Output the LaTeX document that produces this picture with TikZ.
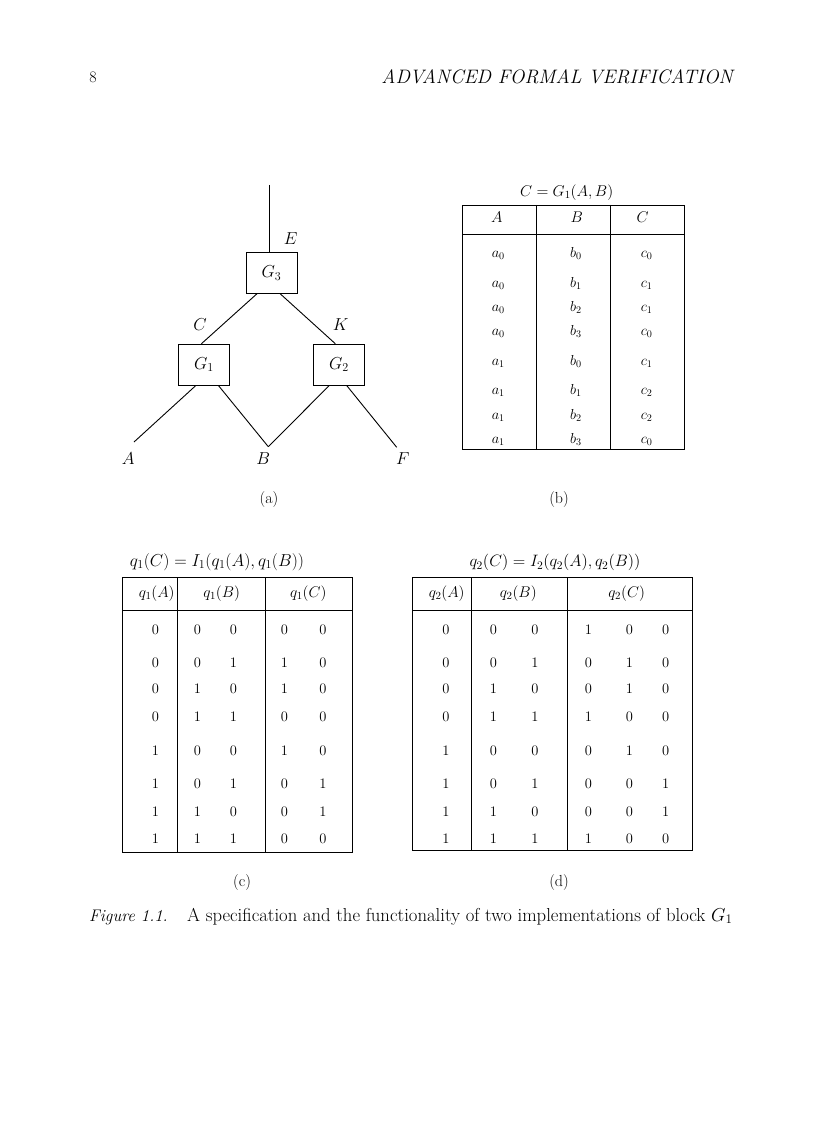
\RequirePackage{fix-cm}
\documentclass[tikz,border=0pt]{standalone}
\usetikzlibrary{calc}
\begin{document}
\begin{tikzpicture}[x=1pt,y=-1pt,
  gate/.style={draw,line width=0.9pt,minimum width=51pt,minimum height=41pt,inner sep=0pt,font=\fontsize{17.3}{20}\selectfont},
  wire/.style={line width=0.9pt},
  lab/.style={inner sep=0pt,font=\fontsize{17.3}{20}\selectfont},
  ttl/.style={inner sep=0pt,font=\fontsize{17.3}{20}\selectfont},
  cell/.style={inner sep=0pt,text height=7pt,text depth=2pt,font=\fontsize{14.5}{17}\selectfont},
  hcell/.style={cell,font=\fontsize{15.5}{18}\selectfont},
  sub/.style={inner sep=0pt,font=\fontsize{16}{18}\selectfont},
  tab/.style={line width=0.8pt}]
\useasboundingbox[fill=white] (0,0) rectangle (816,1123);

% running head
\node[inner sep=0pt,font=\fontsize{16}{18}\selectfont] (pno) at (93,77) {8};
\node[inner sep=0pt,anchor=east,font=\fontsize{19.5}{22}\itshape] (head) at (733,77) {ADVANCED FORMAL VERIFICATION};

% (a) diagram
\node[gate] (g3) at (271.5,272.8) {$G_3$};
\node[gate] (g1) at (204,364.7) {$G_1$};
\node[gate] (g2) at (339,364.7) {$G_2$};
\coordinate (top) at (269,185);
\coordinate (pA) at (134,442);
\coordinate (pB) at (268.3,446.7);
\coordinate (pF) at (396.7,447.3);
\draw[wire] (top) -- (top |- g3.north);
\draw[wire] ($(g3.south west)!0.22!(g3.south east)$) -- ($(g1.north west)!0.45!(g1.north east)$);
\draw[wire] ($(g3.south west)!0.667!(g3.south east)$) -- ($(g2.north west)!0.43!(g2.north east)$);
\draw[wire] ($(g1.south west)!0.34!(g1.south east)$) -- (pA);
\draw[wire] ($(g1.south west)!0.78!(g1.south east)$) -- (pB);
\draw[wire] ($(g2.south west)!0.31!(g2.south east)$) -- (pB);
\draw[wire] ($(g2.south west)!0.65!(g2.south east)$) -- (pF);
\node[lab] (lE) at (290.7,239) {$E$};
\node[lab] (lC) at (200,325) {$C$};
\node[lab] (lK) at (340.7,325) {$K$};
\node[lab] (lA) at (128.3,458.3) {$A$};
\node[lab] (lB) at (263.3,458.3) {$B$};
\node[lab] (lF) at (402.7,458.3) {$F$};
\node[sub] (suba) at (269,500) {(a)};

% (b) table
\node[ttl,font=\fontsize{15.6}{18}\selectfont] (tb) at (566.7,192.7) {$C=G_1(A,B)$};
\draw[tab] (462.7,205) rectangle (684.3,449.3);
\draw[tab] (536.7,205) -- (536.7,449.3);
\draw[tab] (610.7,205) -- (610.7,449.3);
\draw[tab] (462.7,234.3) -- (684.3,234.3);
\node[hcell] (bhA) at (496.7,220) {$A$};
\node[hcell] (bhB) at (576.7,220) {$B$};
\node[hcell] (bhC) at (642.7,220) {$C$};
\foreach \y/\a/\b/\c [count=\i] in {255/0/0/0,285/0/1/1,309/0/2/1,333/0/3/0,363/1/0/1,392/1/1/2,417/1/2/2,441/1/3/0}{
  \node[cell] (b-\i-1) at (498.3,\y) {$a_\a$};
  \node[cell] (b-\i-2) at (576,\y) {$b_\b$};
  \node[cell] (b-\i-3) at (646.7,\y) {$c_\c$};
}
\node[sub] (subb) at (559,500) {(b)};

% (c) table
\node[ttl] (tc) at (217,561.7) {$q_1(C)=I_1(q_1(A),q_1(B))$};
\draw[tab] (122.7,577.3) rectangle (352.3,852.7);
\draw[tab] (177.3,577.3) -- (177.3,852.7);
\draw[tab] (265,577.3) -- (265,852.7);
\draw[tab] (122.7,610) -- (352.3,610);
\node[hcell] (chA) at (156.7,595) {$q_1(A)$};
\node[hcell] (chB) at (221.7,595) {$q_1(B)$};
\node[hcell] (chC) at (308.3,595) {$q_1(C)$};
\foreach \y/\a/\b/\c/\d/\e [count=\i] in {632/0/0/0/0/0,665/0/0/1/1/0,691/0/1/0/1/0,719/0/1/1/0/0,753/1/0/0/1/0,786/1/0/1/0/1,814/1/1/0/0/1,841/1/1/1/0/0}{
  \node[cell] (c-\i-1) at (155.5,\y) {\a};
  \node[cell] (c-\i-2) at (197.3,\y) {\b};
  \node[cell] (c-\i-3) at (233.5,\y) {\c};
  \node[cell] (c-\i-4) at (284.5,\y) {\d};
  \node[cell] (c-\i-5) at (322.8,\y) {\e};
}
\node[sub] (subc) at (242,882) {(c)};

% (d) table
\node[ttl,font=\fontsize{16.5}{19}\selectfont] (td) at (555,562.7) {$q_2(C)=I_2(q_2(A),q_2(B))$};
\draw[tab] (412.3,577.3) rectangle (692.3,850.7);
\draw[tab] (471.7,577.3) -- (471.7,850.7);
\draw[tab] (567.3,577.3) -- (567.3,850.7);
\draw[tab] (412.3,610) -- (692.3,610);
\node[hcell] (dhA) at (446.7,595) {$q_2(A)$};
\node[hcell] (dhB) at (518.3,595) {$q_2(B)$};
\node[hcell] (dhC) at (626.7,595) {$q_2(C)$};
\foreach \y/\a/\b/\c/\d/\e/\f [count=\i] in {632/0/0/0/1/0/0,665/0/0/1/0/1/0,691/0/1/0/0/1/0,719/0/1/1/1/0/0,753/1/0/0/0/1/0,786/1/0/1/0/0/1,814/1/1/0/0/0/1,841/1/1/1/1/0/0}{
  \node[cell] (d-\i-1) at (446,\y) {\a};
  \node[cell] (d-\i-2) at (493.3,\y) {\b};
  \node[cell] (d-\i-3) at (535,\y) {\c};
  \node[cell] (d-\i-4) at (588.5,\y) {\d};
  \node[cell] (d-\i-5) at (629.5,\y) {\e};
  \node[cell] (d-\i-6) at (665.7,\y) {\f};
}
\node[sub] (subd) at (559,882) {(d)};

% caption
\node[inner sep=0pt,anchor=base west,font=\fontsize{16.8}{20}\itshape] (capl) at (89,921) {Figure 1.1.};
\node[inner sep=0pt,anchor=base west,font=\fontsize{18.7}{22}\selectfont] (capt) at (187,921) {A specification and the functionality of two implementations of block $G_1$};
\end{tikzpicture}
\end{document}
